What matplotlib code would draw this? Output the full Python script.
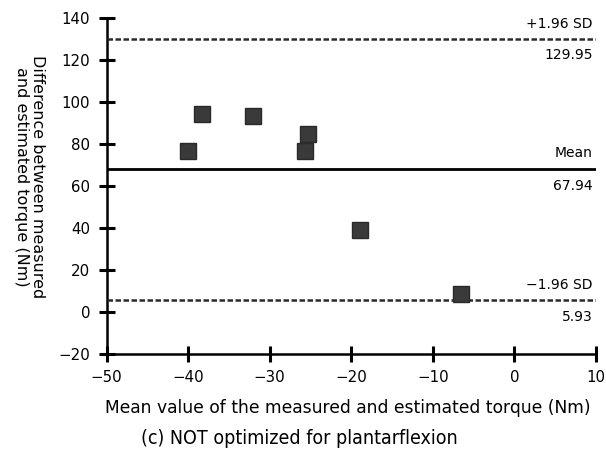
import matplotlib
matplotlib.use("Agg")
import matplotlib.pyplot as plt

# Data
mean_values = [-40.0, -38.3, -32.1, -25.3, -25.7, -18.9, -6.5]
diff_values = [76.9, 94.4, 93.3, 84.9, 76.6, 39.2, 8.5]
mean_diff = 67.94
upper_loa = 129.95
lower_loa = 5.93
x_ticks = [-50, -40, -30, -20, -10, 0, 10]
y_ticks = [-20, 0, 20, 40, 60, 80, 100, 120, 140]

W, H = 606, 457
fig = plt.figure(figsize=(W / 100, H / 100), dpi=100)
ax = fig.add_axes([106.5 / W, 1 - 354 / H, (596 - 106.5) / W, (354 - 18) / H])

ax.plot(mean_values, diff_values, linestyle="none", marker="s", markersize=11,
        color="#3a3a3a", markeredgecolor="#2a2a2a", zorder=5, clip_on=False)

ax.axhline(mean_diff, color="black", lw=2.0, zorder=3)
ax.axhline(upper_loa, color="#2a2a2a", lw=1.8, linestyle=(0, (2.2, 1.0)), zorder=3)
ax.axhline(lower_loa, color="#2a2a2a", lw=1.8, linestyle=(0, (2.2, 1.0)), zorder=3)

ax.set_xlim(-50, 10)
ax.set_ylim(-20, 140)
ax.set_xticks(x_ticks)
ax.set_yticks(y_ticks)
for s in ["top", "right"]:
    ax.spines[s].set_visible(False)
for s in ["left", "bottom"]:
    ax.spines[s].set_linewidth(1.8)
ax.tick_params(direction="inout", length=11.5, width=2.2, labelsize=10.8, pad=6)

def side_label(text, yval, off):
    ax.annotate(text, xy=(1.0, yval), xycoords=("axes fraction", "data"),
                xytext=(-3, off), textcoords="offset pixels",
                ha="right", va="center", fontsize=10)

side_label("+1.96 SD", upper_loa, 15)
side_label("129.95", upper_loa, -16)
side_label("Mean", mean_diff, 16)
side_label("67.94", mean_diff, -17)
side_label("\u22121.96 SD", lower_loa, 15)
side_label("5.93", lower_loa, -17)

fig.text(29.5 / W, 1 - 177 / H, "Difference between measured\nand estimated torque (Nm)",
         rotation=270, ha="center", va="center", fontsize=11.5, linespacing=1.15)
fig.text(348 / W, 1 - 408 / H, "Mean value of the measured and estimated torque (Nm)",
         ha="center", va="center", fontsize=12.3)
fig.text(299 / W, 1 - 438 / H, "(c) NOT optimized for plantarflexion",
         ha="center", va="center", fontsize=14, fontstretch="condensed",
         family="DejaVu Sans")

fig.savefig("out.png", dpi=100)
